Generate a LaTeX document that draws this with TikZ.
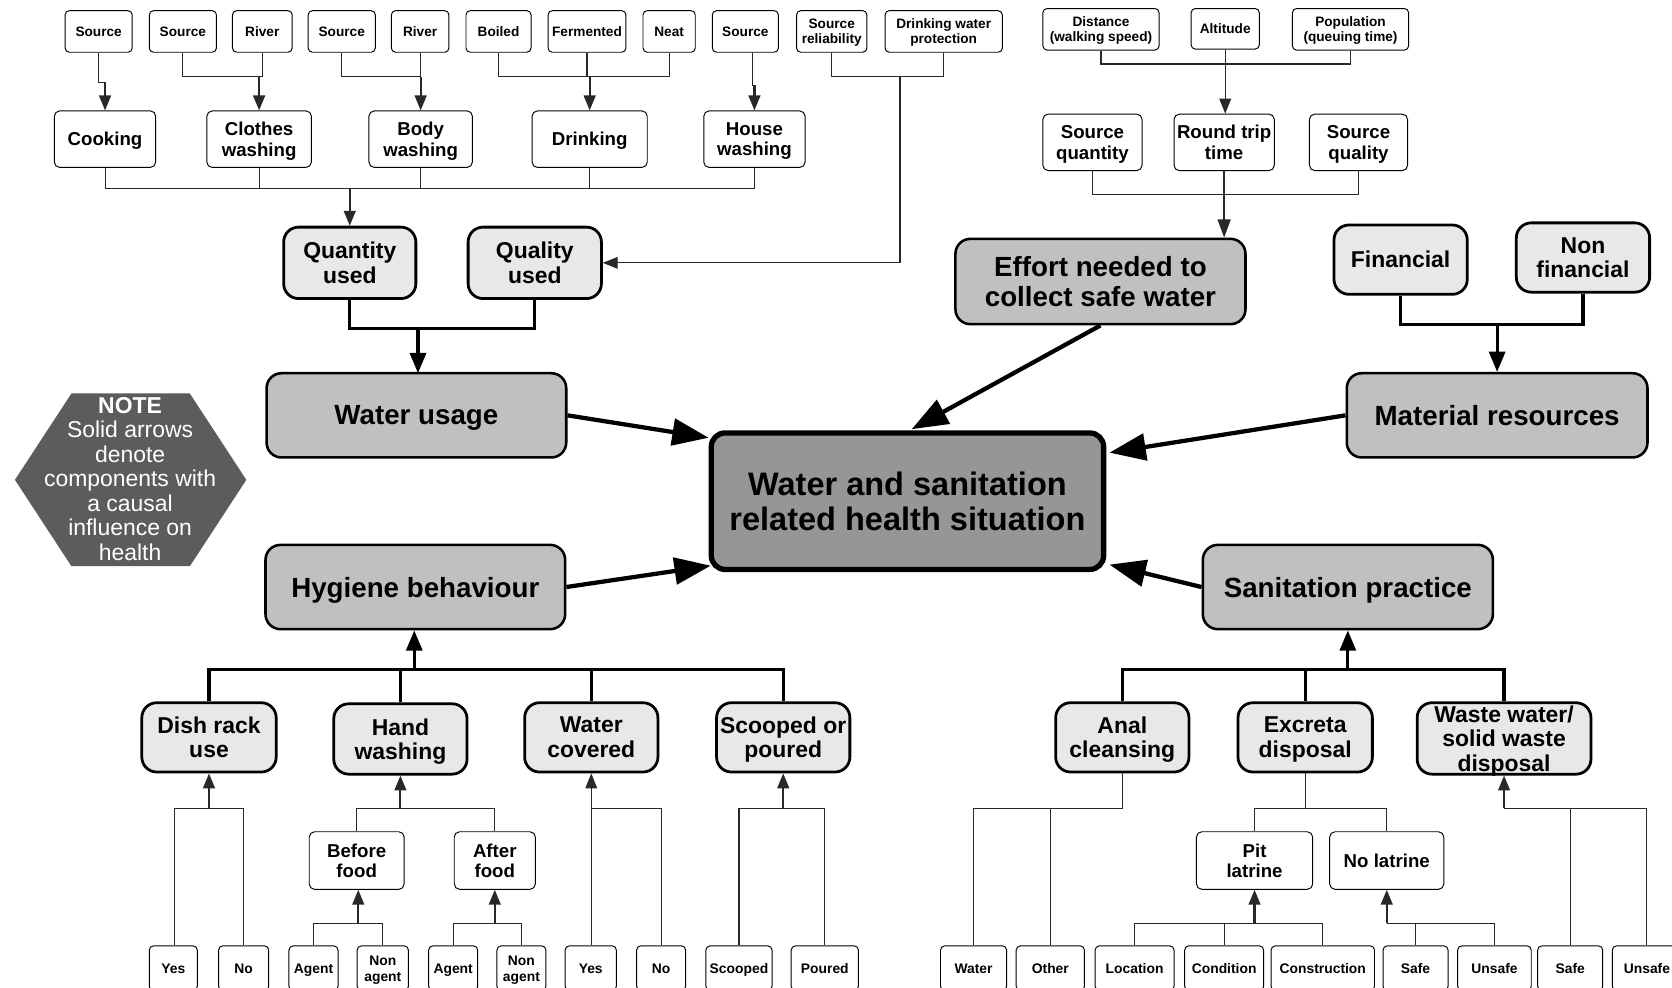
\documentclass[tikz,border=0pt]{standalone}
\usepackage{fontspec}
\setmainfont{Liberation Sans}
\usetikzlibrary{arrows.meta,calc}
\definecolor{lightfill}{RGB}{232,232,232}
\definecolor{midfill}{RGB}{192,192,192}
\definecolor{hubfill}{RGB}{150,150,150}
\definecolor{notefill}{RGB}{92,92,92}
\definecolor{linkgray}{RGB}{40,40,40}

\begin{document}
\begin{tikzpicture}[x=1pt,y=-1pt,
  every node/.style={inner sep=0pt, align=center, text depth=0pt},
  sz/.style 2 args={minimum width=#1pt, minimum height=#2pt},
  leaf/.style={draw, fill=white, line width=0.9pt, rounded corners=4pt,
    font=\bfseries\fontsize{12.8}{14}\selectfont},
  leafb/.style={draw, fill=white, line width=0.9pt, rounded corners=4pt,
    font=\bfseries\fontsize{13}{15}\selectfont},
  mid/.style={draw, fill=white, line width=0.9pt, rounded corners=5pt,
    font=\bfseries\fontsize{17.5}{19}\selectfont},
  sub/.style={draw, fill=lightfill, line width=2.6pt, rounded corners=14pt,
    font=\bfseries\fontsize{21.5}{23}\selectfont},
  major/.style={draw, fill=midfill, line width=2.4pt, rounded corners=14pt,
    font=\bfseries\fontsize{26}{28}\selectfont},
  hub/.style={draw, fill=hubfill, line width=5pt, rounded corners=13pt,
    font=\bfseries\fontsize{30.5}{32}\selectfont},
  link/.style={draw=linkgray, line width=1pt},
  shaft/.style={line width=2pt},
  heavy/.style={draw=black, line width=3pt},
  tipS/.style={-{Triangle[length=14pt,width=11pt]}},
  tipM/.style={-{Triangle[length=14pt,width=11pt]}},
  tipR/.style={-{Triangle[length=17pt,width=12pt]}},
  tipL/.style={-{Triangle[length=19pt,width=15pt]}},
  hubarrow/.style={draw=black, line width=4pt, -{Triangle[length=34pt,width=25pt]}},
]
\useasboundingbox (0,0) rectangle (1568,926);
\clip (0,0) rectangle (1568,926);
\fill[white] (0,0) rectangle (1568,926);

% ---------- top row: sources and treatments ----------
\node[leaf,sz={63}{39}] (s1) at (92.5,29.5) {Source};
\node[leaf,sz={63}{39}] (s2) at (171.5,29.5) {Source};
\node[leaf,sz={56}{39}] (r1) at (246,29.5) {River};
\node[leaf,sz={63}{39}] (s3) at (320.5,29.5) {Source};
\node[leaf,sz={54}{39}] (r2) at (394,29.5) {River};
\node[leaf,sz={61}{39}] (boil) at (467.5,29.5) {Boiled};
\node[leaf,sz={73}{39}] (ferm) at (550.5,29.5) {Fermented};
\node[leaf,sz={49}{39}] (neat) at (627.5,29.5) {Neat};
\node[leaf,sz={62}{39}] (s4) at (699,29.5) {Source};
\node[leaf,sz={66}{39}] (srel) at (780,29.5) {Source\\reliability};
\node[leaf,sz={110}{39}] (dwp) at (885,29.5) {Drinking water\\protection};

\node[leaf,sz={109}{39}] (dist) at (1032.5,27.5) {Distance\\(walking speed)};
\node[leaf,sz={64}{38}] (alt) at (1149,27) {Altitude};
\node[leaf,sz={109}{39}] (pop) at (1266.5,27.5) {Population\\(queuing time)};

% ---------- uses of water ----------
\node[mid,sz={95}{53}] (cook) at (98.5,130.5) {Cooking};
\node[mid,sz={98}{53}] (clothes) at (243,130.5) {Clothes\\washing};
\node[mid,sz={97}{53}] (body) at (394.5,130.5) {Body\\washing};
\node[mid,sz={108}{53}] (drink) at (553,130.5) {Drinking};
\node[mid,sz={95}{53}] (house) at (707.5,130.5) {House\\washing};

\node[mid,sz={93}{53}] (squant) at (1024.5,133.5) {Source\\quantity};
\node[mid,sz={94}{53}] (rtt) at (1148,133.5) {Round trip\\time};
\node[mid,sz={92}{53}] (squal) at (1274,133.5) {Source\\quality};

% ---------- second level ----------
\node[sub,sz={124}{67}] (quant) at (328,246.5) {Quantity\\used};
\node[sub,sz={125}{67}] (qual) at (501.5,246.5) {Quality\\used};
\node[sub,sz={125}{65}] (fin) at (1313.5,243.5) {Financial};
\node[sub,sz={125}{65}] (nonfin) at (1484.5,241.5) {Non\\financial};

% ---------- main components ----------
\node[major,sz={281}{79}] (water) at (390.5,389.5) {Water usage};
\node[major,sz={281}{79}] (hyg) at (389.5,550.5) {Hygiene behaviour};
\node[major,sz={272}{80}] (eff) at (1032,264) {Effort needed to\\collect safe water};
\node[major,sz={282}{79}] (mat) at (1404,389.5) {Material resources};
\node[major,sz={272}{79}] (san) at (1264,550.5) {Sanitation practice};
\node[hub,sz={368}{128}] (hub) at (851,470) {Water and sanitation\\related health situation};

% ---------- note ----------
\fill[notefill] (14,450) -- (67,369) -- (178,369) -- (231,450) -- (178,531) -- (67,531) -- cycle;
\node[text=white, font=\fontsize{21.5}{23}\selectfont] (note) at (122,449)
  {\textbf{NOTE}\\Solid arrows\\denote\\components with\\a causal\\influence on\\health};

% ---------- hygiene sub-components ----------
\node[sub,sz={126}{65}] (dish) at (196,691.5) {Dish rack\\use};
\node[sub,sz={125}{66}] (hand) at (375.5,693) {Hand\\washing};
\node[sub,sz={125}{65}] (wcov) at (554.5,691.5) {Water\\covered};
\node[sub,sz={125}{65}] (scoop) at (734.5,691.5) {Scooped or\\poured};

\node[mid,sz={89}{54}] (before) at (334.5,807) {Before\\food};
\node[mid,sz={76}{54}] (after) at (464,807) {After\\food};

\node[leafb,sz={45}{42}] (yes1) at (162.5,908) {Yes};
\node[leafb,sz={47}{42}] (no1) at (228.5,908) {No};
\node[leafb,sz={46}{42}] (ag1) at (294,908) {Agent};
\node[leafb,sz={48}{42}] (nag1) at (359,908) {Non\\agent};
\node[leafb,sz={46}{42}] (ag2) at (425,908) {Agent};
\node[leafb,sz={46}{42}] (nag2) at (489,908) {Non\\agent};
\node[leafb,sz={48}{42}] (yes2) at (554,908) {Yes};
\node[leafb,sz={46}{42}] (no2) at (620,908) {No};
\node[leafb,sz={62}{42}] (scd) at (693,908) {Scooped};
\node[leafb,sz={63}{42}] (pou) at (773.5,908) {Poured};

% ---------- sanitation sub-components ----------
\node[sub,sz={125}{65}] (anal) at (1052.5,691.5) {Anal\\cleansing};
\node[sub,sz={126}{65}] (excr) at (1224,691.5) {Excreta\\disposal};
\node[sub,sz={163}{67}] (waste) at (1410.5,692.5) {Waste water/\\solid waste\\disposal};

\node[mid,sz={109}{54}] (pit) at (1176.5,807) {Pit\\latrine};
\node[mid,sz={107}{54}] (nolat) at (1300.5,807) {No latrine};

\node[leafb,sz={62}{42}] (wat) at (913,908) {Water};
\node[leafb,sz={64}{42}] (oth) at (985,908) {Other};
\node[leafb,sz={74}{42}] (loc) at (1064,908) {Location};
\node[leafb,sz={74}{42}] (cond) at (1148,908) {Condition};
\node[leafb,sz={97}{42}] (cons) at (1240.5,908) {Construction};
\node[leafb,sz={61}{42}] (safe1) at (1327.5,908) {Safe};
\node[leafb,sz={69}{42}] (uns1) at (1401.5,908) {Unsafe};
\node[leafb,sz={61}{42}] (safe2) at (1472.5,908) {Safe};
\node[leafb,sz={65}{42}] (uns2) at (1544.5,908) {Unsafe};

% ---------- connectors: top left ----------
\coordinate (j1) at (98.5,77);
\draw[link] (s1.south) |- (j1);
\draw[link,shaft,tipM] (j1) -- (cook.north);

\draw[link] (s2.south) |- (r1.south |- 0,72) -- (r1.south);
\draw[link,shaft,tipM] (clothes.north |- 0,72) -- (clothes.north);

\draw[link] (s3.south) |- (r2.south |- 0,72) -- (r2.south);
\draw[link,shaft,tipM] (body.north |- 0,72) -- (body.north);

\draw[link] (boil.south) |- (neat.south |- 0,72) -- (neat.south);
\draw[link] (ferm.south) -- (ferm.south |- 0,72);
\draw[link,shaft,tipM] (drink.north |- 0,72) -- (drink.north);

\coordinate (j4) at (707.5,80);
\draw[link] (s4.south -| 706,0) |- (j4);
\draw[link,shaft,tipM] (j4) -- (house.north);

\draw[link] (srel.south) |- (dwp.south |- 0,72) -- (dwp.south);
\coordinate (qj) at (844,72);
\draw[link,tipM] (qj) |- (qual.east);

\draw[link] (cook.south) |- (house.south |- 0,177) -- (house.south);
\draw[link] (clothes.south) -- (clothes.south |- 0,177);
\draw[link] (body.south) -- (body.south |- 0,177);
\draw[link] (drink.south) -- (drink.south |- 0,177);
\draw[link,shaft,tipM] (quant.north |- 0,177) -- (quant.north);

\draw[heavy] (quant.south) |- (qual.south |- 0,308) -- (qual.south);
\draw[heavy,tipL] (392,308) -- (392,350);

% ---------- connectors: top right ----------
\draw[link] (dist.south) |- (pop.south |- 0,60) -- (pop.south);
\draw[link,line width=1.3pt,tipM] (alt.south) -- (alt.south |- rtt.north);
\draw[link] (squant.south) |- (squal.south |- 0,182) -- (squal.south);
\draw[link,line width=1.8pt,tipR] (rtt.south) -- (rtt.south |- eff.north);

\draw[heavy] (fin.south) |- (nonfin.south |- 0,304) -- (nonfin.south);
\draw[heavy,tipL] (mat.north |- 0,304) -- (mat.north);

% ---------- arrows into the health situation ----------
\draw[hubarrow] (water.east) -- ($(hub.north west)+(0,7)$);
\draw[hubarrow] (hyg.east) -- ($(hub.south west)+(2,-6)$);
\draw[hubarrow] (eff.south) -- ($(hub.north)+(4,-1)$);
\draw[hubarrow] (mat.west) -- ($(hub.north east)+(3,21)$);
\draw[hubarrow] (san.west) -- ($(hub.south east)+(3,-7)$);

% ---------- connectors: hygiene behaviour ----------
\coordinate (hb) at (388.5,628);
\draw[heavy] (dish.north) |- (scoop.north |- hb) -- (scoop.north);
\draw[heavy] (hand.north) -- (hand.north |- hb);
\draw[heavy] (wcov.north) -- (wcov.north |- hb);
\draw[heavy,tipL] (hb) -- (hyg.south -| hb);

\draw[link] (yes1.north -| 164,0) |- (no1.north |- 0,758) -- (no1.north);
\draw[link,shaft,tipS] (dish.south |- 0,758) -- (dish.south);

\draw[link] (before.north) |- (after.north |- 0,758) -- (after.north);
\draw[link,shaft,tipS] (hand.south |- 0,758) -- (hand.south);

\draw[link] (ag1.north) |- (nag1.north |- 0,866) -- (nag1.north);
\draw[link,shaft,tipS] (336,866) -- (before.south -| 336,0);
\draw[link] (ag2.north) |- (nag2.north |- 0,866) -- (nag2.north);
\draw[link,shaft,tipS] (after.south |- 0,866) -- (after.south);

\draw[link,tipS] (yes2.north -| wcov.south) -- (wcov.south);
\draw[link] (wcov.south |- 0,758) -| (no2.north);

\draw[link] (scd.north) |- (pou.north |- 0,758) -- (pou.north);
\draw[link,shaft,tipS] (scoop.south |- 0,758) -- (scoop.south);

% ---------- connectors: sanitation practice ----------
\coordinate (sb) at (1264,628);
\draw[heavy] (anal.north) |- (waste.north |- sb) -- (waste.north);
\draw[heavy] (excr.north) -- (excr.north |- sb);
\draw[heavy,tipL] (sb) -- (san.south -| sb);

\draw[link] (anal.south) |- (wat.north |- 0,758) -- (wat.north);
\draw[link] (oth.north) -- (oth.north |- 0,758);

\draw[link] (excr.south) -- (excr.south |- 0,758);
\draw[link] (pit.north) |- (nolat.north |- 0,758) -- (nolat.north);

\draw[link] (loc.north) |- (cons.north |- 0,866) -- (cons.north);
\draw[link] (cond.north) -- (cond.north |- 0,866);
\draw[link,shaft,tipS] (pit.south |- 0,866) -- (pit.south);

\draw[link] (nolat.south |- 0,866) -| (uns1.north);
\draw[link] (safe1.north) -- (safe1.north |- 0,866);
\draw[link,shaft,tipS] (nolat.south |- 0,866) -- (nolat.south);

\draw[link] (waste.south |- 0,758) -| (uns2.north);
\draw[link] (safe2.north) -- (safe2.north |- 0,758);
\draw[link,shaft,tipS] (waste.south |- 0,758) -- (waste.south);
\end{tikzpicture}
\end{document}
